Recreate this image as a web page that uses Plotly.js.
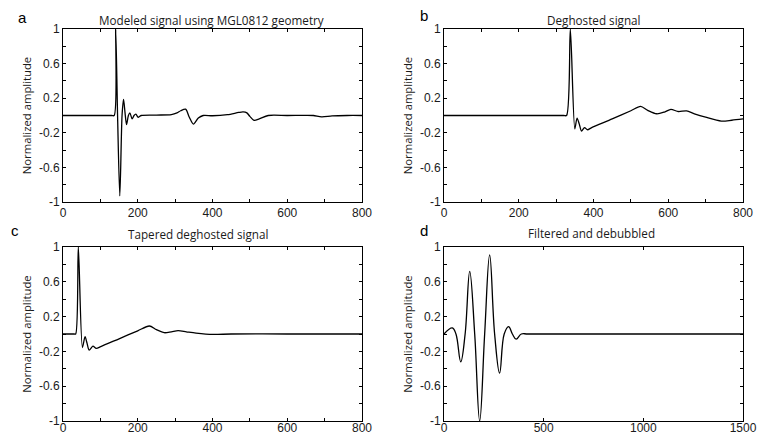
<!DOCTYPE html>
<html>
<head>
<meta charset="utf-8">
<script src="https://cdn.plot.ly/plotly-3.0.1.min.js"></script>
<style>html,body{margin:0;padding:0;background:#fff;}#chart{width:767px;height:434px;}</style>
</head>
<body>
<div id="chart"></div>
<script>
// Panel a: Modeled signal using MGL0812 geometry
var aX = [0, 130, 137, 141, 146, 152, 158, 162, 166, 170, 175, 179, 185, 190, 195, 201, 209, 250, 290, 305, 315, 328, 338, 349, 362, 375, 400, 440, 470, 482, 492, 500, 511, 525, 549, 600, 650, 670, 692, 720, 760, 800];
var aY = [0, 0, 0, 1.0, 0, -0.93, 0, 0.185, 0.03, -0.105, 0, 0.03, -0.04, 0, 0.015, -0.02, 0, 0.005, 0.01, 0.03, 0.055, 0.073, -0.02, -0.10, -0.03, 0.0, -0.003, 0.01, 0.035, 0.042, 0.03, -0.01, -0.055, -0.04, 0, 0, 0.002, 0, -0.015, -0.005, 0, 0];

// Panel b: Deghosted signal
var bX = [0, 320, 328, 338, 350, 356, 362, 368, 376, 384, 395, 450, 500, 526, 545, 569, 590, 607, 627, 649, 670, 700, 742, 770, 800];
var bY = [0, 0, 0, 1.0, -0.155, -0.03, -0.1, -0.18, -0.14, -0.165, -0.14, -0.04, 0.055, 0.105, 0.06, 0.02, 0.04, 0.07, 0.046, 0.054, 0.02, -0.02, -0.065, -0.055, -0.04];

// Panel c: Tapered deghosted signal
var cX = [0, 30, 34, 41, 52, 59, 64, 70, 80, 89, 101, 150, 200, 231, 250, 271, 290, 308, 330, 356, 401, 450, 600, 800];
var cY = [0, 0, 0, 1.0, -0.155, -0.03, -0.1, -0.185, -0.14, -0.165, -0.145, -0.055, 0.037, 0.092, 0.05, 0.015, 0.025, 0.038, 0.025, 0.01, -0.005, 0, 0, 0];

// Panel d: Filtered and debubbled
var dX = [0, 42, 60, 84, 106, 129, 154, 179, 204, 229, 254, 279, 302, 324, 343, 362, 388, 420, 600, 1000, 1400, 1500];
var dY = [0, 0.07, 0, -0.32, 0, 0.72, 0, -1.0, 0, 0.91, 0, -0.45, 0, 0.085, 0, -0.06, 0, 0, 0, 0, 0, 0];

// Tick labels
var yTickVals = [-1, -0.8, -0.6, -0.4, -0.2, 0, 0.2, 0.4, 0.6, 0.8, 1];
var yTickText = ['-1', '', '-0.6', '', '-0.2', '', '0.2', '', '0.6', '', '1'];
var xTickVals = [0, 100, 200, 300, 400, 500, 600, 700, 800];
var xTickText = ['0', '', '200', '', '400', '', '600', '', '800'];
var dTickVals = [0, 500, 1000, 1500];
var dTickText = ['0', '500', '1000', '1500'];

var titles = ['Modeled signal using MGL0812 geometry', 'Deghosted signal', 'Tapered deghosted signal', 'Filtered and debubbled'];
var letters = ['a', 'b', 'c', 'd'];
var yTitle = 'Normalized amplitude';

var W = 767, H = 434;
function px(v) { return v / W; }
function py(v) { return 1 - v / H; }

var lineStyle = {color: '#000', width: 1.3, shape: 'spline', smoothing: 0.8};
var waveStyle = {color: '#000', width: 1.3, shape: 'spline', smoothing: 1.15};
var traces = [
  {x: aX, y: aY, xaxis: 'x', yaxis: 'y', mode: 'lines', line: lineStyle, hoverinfo: 'skip'},
  {x: bX, y: bY, xaxis: 'x2', yaxis: 'y2', mode: 'lines', line: lineStyle, hoverinfo: 'skip'},
  {x: cX, y: cY, xaxis: 'x3', yaxis: 'y3', mode: 'lines', line: lineStyle, hoverinfo: 'skip'},
  {x: dX, y: dY, xaxis: 'x4', yaxis: 'y4', mode: 'lines', line: waveStyle, hoverinfo: 'skip'}
];

var tickFont = {family: 'Liberation Sans, Arial, sans-serif', size: 12, color: '#1a1a1a'};
var titleFont = {family: 'Open Sans, sans-serif', size: 11.7, color: '#1a1a1a'};
var yTitleFont = {family: 'Open Sans, sans-serif', size: 11.3, color: '#1a1a1a'};

function xAxis(dom, anchor, vals, text, range, standoff) {
  return {domain: dom, anchor: anchor, range: range, tickmode: 'array', tickvals: vals, ticktext: text,
    ticks: 'inside', ticklen: 3, tickwidth: 1, tickcolor: '#000', showline: true, linecolor: '#000', linewidth: 1,
    mirror: 'ticks', showgrid: false, zeroline: false, tickfont: tickFont, fixedrange: true,
    ticklabelstandoff: standoff};
}
function yAxis(dom, anchor) {
  return {domain: dom, anchor: anchor, range: [-1, 1], tickmode: 'array', tickvals: yTickVals, ticktext: yTickText,
    ticks: 'inside', ticklen: 3, tickwidth: 1, tickcolor: '#000', showline: true, linecolor: '#000', linewidth: 1,
    mirror: 'ticks', showgrid: false, zeroline: false, tickfont: tickFont, fixedrange: true,
    title: {text: yTitle, font: yTitleFont, standoff: 4}};
}

var xa = [px(63), px(362)], xb = [px(444), px(743)];
var yTop = [py(202), py(29)], yBot = [py(421), py(247)];

var letterFont = {family: 'Liberation Sans, Arial, sans-serif', size: 15, color: '#000'};
function ann(text, x, y, font) {
  return {text: text, x: px(x), y: py(y), xref: 'paper', yref: 'paper', showarrow: false, xanchor: 'center', yanchor: 'middle', font: font};
}

var layout = {
  width: W, height: H,
  margin: {l: 0, r: 0, t: 0, b: 0},
  paper_bgcolor: '#fff', plot_bgcolor: '#fff',
  showlegend: false,
  xaxis: xAxis(xa, 'y', xTickVals, xTickText, [0, 800], 0),
  yaxis: yAxis(yTop, 'x'),
  xaxis2: xAxis(xb, 'y2', xTickVals, xTickText, [0, 800], 0),
  yaxis2: yAxis(yTop, 'x2'),
  xaxis3: xAxis(xa, 'y3', xTickVals, xTickText, [0, 800], -4),
  yaxis3: yAxis(yBot, 'x3'),
  xaxis4: xAxis(xb, 'y4', dTickVals, dTickText, [0, 1500], -4),
  yaxis4: yAxis(yBot, 'x4'),
  annotations: [
    ann(titles[0], 211, 19.5, titleFont),
    ann(titles[1], 594, 19.5, titleFont),
    ann(titles[2], 198, 234, titleFont),
    ann(titles[3], 591, 233, titleFont),
    ann(letters[0], 22, 17, letterFont),
    ann(letters[1], 424, 16, letterFont),
    ann(letters[2], 15, 230, letterFont),
    ann(letters[3], 424, 230, letterFont)
  ]
};

Plotly.newPlot('chart', traces, layout, {displayModeBar: false, staticPlot: true});
</script>
</body>
</html>
